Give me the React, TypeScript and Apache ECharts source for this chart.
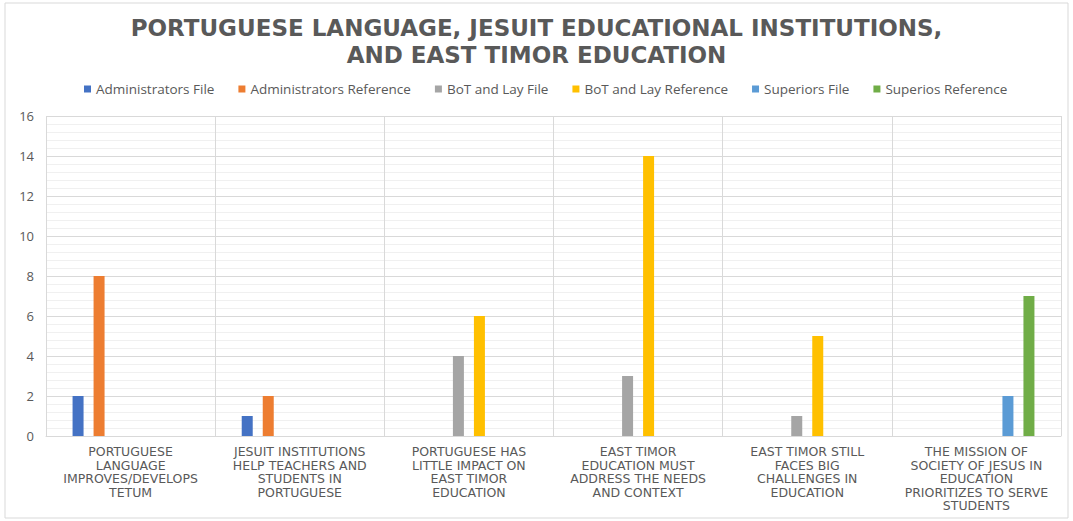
import React, { useEffect, useRef } from "react";
import * as echarts from "echarts";

const titleText = "PORTUGUESE LANGUAGE, JESUIT EDUCATIONAL INSTITUTIONS,\nAND EAST TIMOR EDUCATION";

const categories = [
  "PORTUGUESE\nLANGUAGE\nIMPROVES/DEVELOPS\nTETUM",
  "JESUIT INSTITUTIONS\nHELP TEACHERS AND\nSTUDENTS IN\nPORTUGUESE",
  "PORTUGUESE HAS\nLITTLE IMPACT ON\nEAST TIMOR\nEDUCATION",
  "EAST TIMOR\nEDUCATION MUST\nADDRESS THE NEEDS\nAND CONTEXT",
  "EAST TIMOR STILL\nFACES BIG\nCHALLENGES IN\nEDUCATION",
  "THE MISSION OF\nSOCIETY OF JESUS IN\nEDUCATION\nPRIORITIZES TO SERVE\nSTUDENTS",
];

const seriesNames = [
  "Administrators File",
  "Administrators Reference",
  "BoT and Lay File",
  "BoT and Lay Reference",
  "Superiors File",
  "Superios Reference",
];

const administratorsFile = [2, 1, null, null, null, null];
const administratorsReference = [8, 2, null, null, null, null];
const botLayFile = [null, null, 4, 3, 1, null];
const botLayReference = [null, null, 6, 14, 5, null];
const superiorsFile = [null, null, null, null, null, 2];
const superiosReference = [null, null, null, null, null, 7];

const seriesValues = [
  administratorsFile,
  administratorsReference,
  botLayFile,
  botLayReference,
  superiorsFile,
  superiosReference,
];

const colors = ["#4472C4", "#ED7D31", "#A5A5A5", "#FFC000", "#5B9BD5", "#70AD47"];

export default function App() {
  const ref = useRef<HTMLDivElement>(null);
  useEffect(() => {
    document.body.style.margin = "0";
    const chart = echarts.init(ref.current!, null, { renderer: "svg" });
    chart.setOption({
      animation: false,
      backgroundColor: "#ffffff",
      color: colors,
      title: {
        text: titleText,
        left: "center",
        top: 9,
        textStyle: {
          fontFamily: "DejaVu Sans",
          fontWeight: "bold",
          fontSize: 23,
          color: "#595959",
          lineHeight: 27,
        },
      },
      legend: {
        top: 77,
        left: 79,
        itemWidth: 7,
        itemHeight: 7,
        itemGap: 24,
        icon: "rect",
        textStyle: { fontFamily: "Open Sans", fontSize: 13.5, color: "#595959" },
        data: seriesNames,
      },
      graphic: [
        {
          type: "rect",
          shape: { x: 5, y: 3, width: 1063, height: 515 },
          style: { fill: "none", stroke: "#d9d9d9", lineWidth: 1 },
          silent: true,
        },
      ],
      grid: { left: 46, right: 12, top: 116, bottom: 85, containLabel: false },
      xAxis: {
        type: "category",
        data: categories,
        axisLine: { show: true, lineStyle: { color: "#d9d9d9" } },
        axisTick: { show: false },
        splitLine: { show: true, interval: 0, lineStyle: { color: "#d9d9d9" } },
        axisLabel: {
          interval: 0,
          margin: 9,
          fontFamily: "DejaVu Sans",
          fontSize: 12.5,
          lineHeight: 13.5,
          color: "#595959",
        },
      },
      yAxis: {
        type: "value",
        min: 0,
        max: 16,
        interval: 2,
        axisLine: { show: false },
        axisTick: { show: false },
        axisLabel: { fontFamily: "Open Sans", fontSize: 13, color: "#595959", margin: 12 },
        splitLine: { lineStyle: { color: "#d9d9d9" } },
        minorTick: { show: false, splitNumber: 5 },
        minorSplitLine: { show: true, lineStyle: { color: "#f0f0f0" } },
      },
      series: seriesNames.map((name, i) => ({
        name,
        type: "bar",
        data: seriesValues[i],
        barWidth: 11,
        barGap: "91%",
        itemStyle: { color: colors[i] },
      })),
    });
    return () => chart.dispose();
  }, []);
  return <div ref={ref} style={{ width: 1073, height: 521 }} />;
}
